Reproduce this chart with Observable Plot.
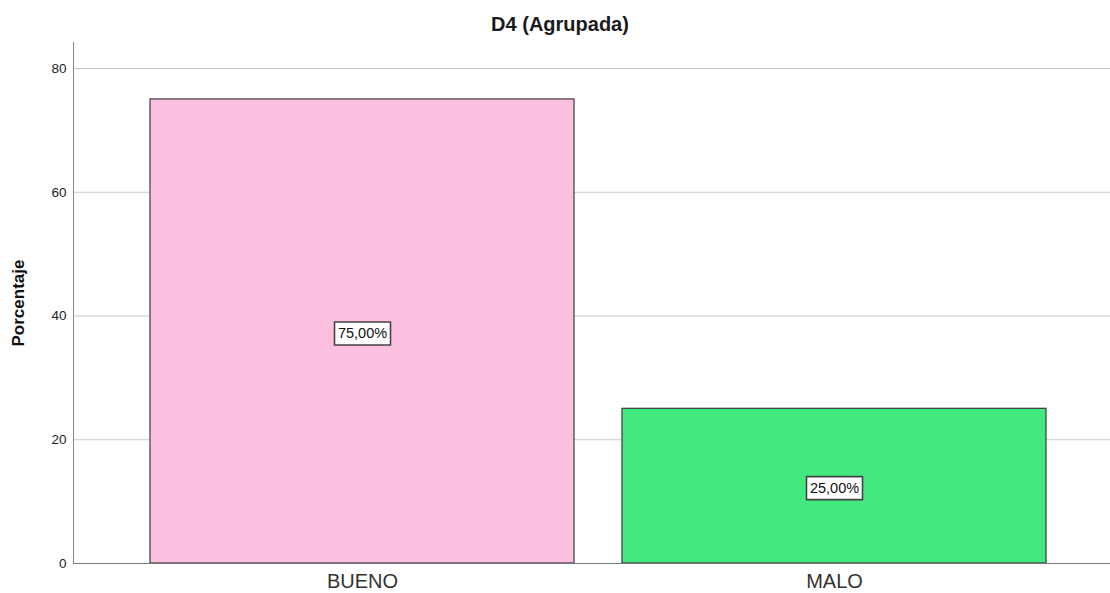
<!DOCTYPE html>
<html>
<head>
<meta charset="utf-8">
<script src="https://cdn.jsdelivr.net/npm/d3@7"></script>
<script src="https://cdn.jsdelivr.net/npm/@observablehq/plot@0.6"></script>
<style>
  html, body { margin: 0; padding: 0; background: #fff; }
  #wrap { position: relative; width: 1110px; height: 593px; font-family: "Liberation Sans", Arial, sans-serif; }
  #title { position: absolute; left: 0; top: 13px; width: 1120px; text-align: center; font-size: 20px; font-weight: bold; color: #1a1a1a; }
</style>
</head>
<body>
<div id="wrap"><div id="title">D4 (Agrupada)</div></div>
<script>
const categories = ["BUENO", "MALO"];
const values = [75, 25];
const labels = ["75,00%", "25,00%"];
const colors = ["#FEC0E0", "#41E97E"];
const yTicks = [0, 20, 40, 60, 80];

const data = categories.map((c, i) => ({cat: c, value: values[i], label: labels[i], color: colors[i]}));

const boxSymbol = { draw(ctx) { ctx.rect(-28, -11.5, 56, 23); } };

const chart = Plot.plot({
  width: 1110,
  height: 593,
  marginLeft: 73,
  marginRight: 0,
  marginTop: 42,
  marginBottom: 30,
  style: { fontFamily: "Liberation Sans, Arial, sans-serif", background: "#fff" },
  x: { domain: categories, paddingInner: 0.1015, paddingOuter: 0.147, align: 0.545, label: null },
  y: { domain: [0, 84.2], label: null },
  marks: [
    Plot.ruleY(yTicks.filter(d => d > 0), { stroke: "#c8c8c8", strokeWidth: 1 }),
    Plot.barY(data, { x: "cat", y: "value", fill: "color", stroke: "#3a3a3a", strokeWidth: 1.2 }),
    Plot.dot(data, { x: "cat", y: d => d.value / 2, symbol: boxSymbol, r: 5, dy: 2, fill: "#fff", stroke: "#444", strokeWidth: 1.6 }),
    Plot.text(data, { x: "cat", y: d => d.value / 2, text: "label", dy: 2, fontSize: 14.5, fill: "#111" }),
    Plot.axisY({ ticks: yTicks, tickSize: 0, tickPadding: 7, fontSize: 13.5, color: "#222", label: null }),
    Plot.axisX({ tickSize: 0, tickPadding: 10, fontSize: 20, color: "#333", label: null }),
    Plot.frame({ anchor: "left", stroke: "#888" }),
    Plot.ruleY([0], { stroke: "#777" }),
    Plot.text(["Porcentaje"], { frameAnchor: "left", textAnchor: "middle", rotate: -90, dx: -55, fontSize: 17, fontWeight: "bold", fill: "#111" })
  ]
});
document.getElementById("wrap").appendChild(chart);
</script>
</body>
</html>
